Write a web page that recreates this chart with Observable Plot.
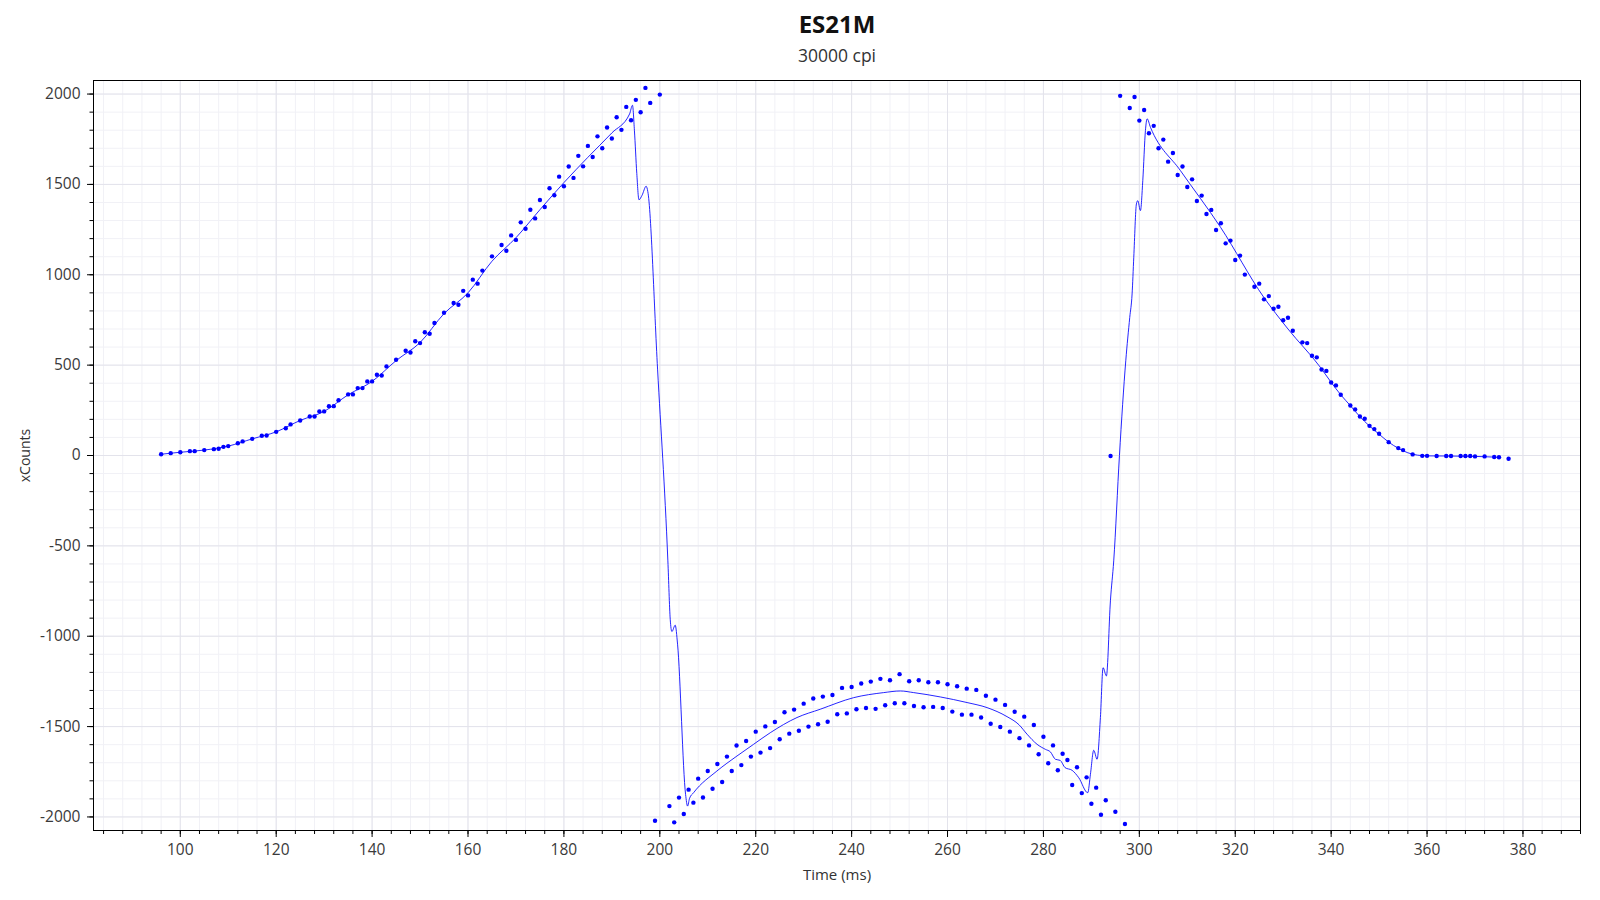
<!DOCTYPE html>
<html><head><meta charset="utf-8">
<script src="https://cdn.jsdelivr.net/npm/d3@7"></script>
<script src="https://cdn.jsdelivr.net/npm/@observablehq/plot@0.6"></script>
<style>body{margin:0;background:#fff;} svg{display:block}</style>
</head><body><div id="chart"></div>
<script>
const title = "ES21M";
const subtitle = "30000 cpi";
const xLabel = "Time (ms)";
const yLabel = "xCounts";

// sampled points (dots)
const sampleTime = [96,98,100,102,103,105,107,108,109,110,112,113,115,117,118,120,122,123,125,127,128,129,130,131,132,133,135,136,137,138,139,140,141,142,143,145,147,148,149,150,151,152,153,155,157,158,159,160,161,162,163,165,167,168,169,170,171,172,173,174,175,176,177,178,179,180,181,182,183,184,185,186,187,188,189,190,191,192,193,194,195,196,197,198,200,
199,202,203,204,205,206,207,208,209,210,211,212,213,214,215,216,217,218,219,220,221,222,223,224,225,226,227,228,229,230,231,232,233,234,235,236,237,238,239,240,241,242,243,244,245,246,247,248,249,250,251,252,253,254,255,256,257,258,259,260,261,262,263,264,265,266,267,268,269,270,271,272,273,274,275,276,277,278,279,280,281,282,283,284,285,286,287,288,289,290,291,292,293,295,297,
294,
296,298,299,300,301,302,303,304,305,306,307,308,309,310,311,312,313,314,315,316,317,318,319,320,321,322,324,325,326,327,328,329,330,331,332,334,335,336,337,338,339,340,341,342,344,345,346,347,348,349,350,352,354,355,357,359,360,362,364,365,367,368,369,370,372,374,375,377];
const sampleCounts = [7,13,18,24,24,30,35,37,48,52,68,78,92,109,111,131,151,172,194,216,216,244,244,273,273,306,338,338,373,373,410,410,447,443,493,530,580,570,632,622,682,674,733,790,844,834,911,886,973,951,1023,1102,1165,1133,1218,1193,1290,1255,1360,1312,1414,1375,1479,1440,1543,1490,1599,1536,1658,1600,1713,1652,1766,1700,1815,1754,1872,1802,1929,1855,1968,1899,2034,1951,1997,
-2021,-1940,-2030,-1893,-1984,-1849,-1921,-1788,-1892,-1746,-1844,-1707,-1807,-1666,-1746,-1605,-1713,-1580,-1666,-1528,-1644,-1499,-1619,-1475,-1570,-1421,-1539,-1406,-1523,-1373,-1500,-1345,-1487,-1334,-1473,-1325,-1432,-1286,-1427,-1281,-1404,-1262,-1397,-1251,-1402,-1236,-1382,-1244,-1371,-1210,-1371,-1249,-1386,-1244,-1393,-1255,-1391,-1255,-1397,-1266,-1417,-1277,-1434,-1290,-1434,-1297,-1450,-1329,-1484,-1351,-1502,-1380,-1528,-1418,-1564,-1445,-1604,-1491,-1653,-1556,-1703,-1604,-1742,-1650,-1685,-1823,-1725,-1868,-1781,-1927,-1838,-1988,-1908,-1971,-2039,
-3,
1990,1923,1984,1853,1912,1783,1824,1700,1748,1626,1674,1552,1599,1486,1528,1408,1438,1336,1359,1248,1285,1174,1189,1082,1106,1001,934,951,864,882,812,823,748,762,690,626,622,552,543,476,468,404,388,336,277,255,216,203,164,146,120,74,41,30,6,-2,-2,-3,-3,-3,-3,-3,-3,-5,-5,-8,-10,-18];

// fitted curve (line)
const lineTime = [96,100,105,110,115,120,125,130,135,140,145,150,155,160,165,170,175,180,185,190,193.7,194.3,194.7,195.2,195.65,196.3,197.15,197.5,199.53,201.68,202.17,202.52,203.21,203.7,205.37,205.79,206.2,207.04,211.9,216.08,219.56,223.03,228.6,233.46,240.42,246.68,250.16,252.94,258.5,264.07,268.24,272.41,274.91,276.58,278.67,280.41,281.45,282.5,283.5,284.5,285.98,287.37,289.24,289.8,290.49,291.19,291.88,292.44,293.13,293.97,294.66,295.85,297.17,298.0,298.49,298.84,299.39,299.67,300.23,300.72,301.27,301.62,302.32,308.58,316.93,325.96,331,337.78,340,342,344,346,348,350,352,354,356,358,360,365,370,375];
const lineCounts = [7,18,30,52,92,131,194,244,336,410,525,625,785,900,1075,1205,1360,1510,1650,1785,1890,1938,1800,1560,1415,1440,1490,1460,478,-583,-906,-974,-939,-1044,-1875,-1940,-1897,-1866,-1746,-1663,-1598,-1534,-1450,-1404,-1340,-1312,-1303,-1312,-1336,-1367,-1395,-1445,-1490,-1542,-1598,-1626,-1640,-1681,-1687,-1727,-1742,-1783,-1866,-1764,-1631,-1681,-1450,-1174,-1220,-804,-583,0,524,764,894,1097,1392,1410,1355,1521,1798,1863,1816,1576,1263,875,700,487,405,336,276,215,163,118,74,40,15,2,-2,-3,-5,-10];

const xMajorTicks = [100,120,140,160,180,200,220,240,260,280,300,320,340,360,380];
const xMinorTicks = d3.range(84, 393, 4);
const yMajorTicks = [-2000,-1500,-1000,-500,0,500,1000,1500,2000];
const yMinorTicks = d3.range(-2000, 2001, 100);

const samples = sampleTime.map((t, i) => ({t, c: sampleCounts[i]}));
const curve = lineTime.map((t, i) => ({t, c: lineCounts[i]}));

const chart = Plot.plot({
  width: 1600, height: 900,
  marginTop: 80, marginBottom: 70, marginLeft: 93, marginRight: 20,
  style: {fontFamily: "'Open Sans', sans-serif", fontSize: "15.5px", color: "#3a3a3a", background: "#fff"},
  x: {domain: [81.9, 392], label: null},
  y: {domain: [-2075, 2075], label: null},
  marks: [
    Plot.gridX(xMinorTicks, {stroke: "#f1f1f6", strokeOpacity: 1}),
    Plot.gridY(yMinorTicks, {stroke: "#f1f1f6", strokeOpacity: 1}),
    Plot.gridX(xMajorTicks, {stroke: "#e3e3eb", strokeOpacity: 1}),
    Plot.gridY(yMajorTicks, {stroke: "#e3e3eb", strokeOpacity: 1}),
    Plot.axisX(xMinorTicks, {tickSize: 4, tickFormat: () => "", stroke: "black", label: null}),
    Plot.axisX(xMajorTicks, {tickSize: 7, tickPadding: 6, stroke: "black", label: null}),
    Plot.axisY(yMinorTicks, {tickSize: 3.5, tickFormat: () => "", stroke: "black", label: null}),
    Plot.axisY(yMajorTicks, {tickSize: 6, tickPadding: 7, stroke: "black", label: null, tickFormat: d => String(d)}),
    Plot.line(curve, {x: "t", y: "c", stroke: "blue", strokeWidth: 1, strokeOpacity: 0.85, curve: "monotone-x"}),
    Plot.dot(samples, {x: "t", y: "c", r: 2.2, fill: "blue", stroke: null}),
    Plot.frame({stroke: "black", strokeWidth: 1}),
    Plot.text([title], {text: d => d, frameAnchor: "top", lineAnchor: "middle", textAnchor: "middle", dy: -55, fontSize: 24, fontWeight: "bold", fill: "#111"}),
    Plot.text([subtitle], {text: d => d, frameAnchor: "top", lineAnchor: "middle", textAnchor: "middle", dy: -24, fontSize: 17.5, fill: "#333"}),
    Plot.text([xLabel], {text: d => d, frameAnchor: "bottom", lineAnchor: "middle", textAnchor: "middle", dy: 45, fontSize: 15, fill: "#333"}),
    Plot.text([yLabel], {text: d => d, frameAnchor: "left", lineAnchor: "middle", textAnchor: "middle", dx: -68, rotate: -90, fontSize: 14, fill: "#333"})
  ]
});
document.getElementById("chart").appendChild(chart);
</script>
</body></html>
